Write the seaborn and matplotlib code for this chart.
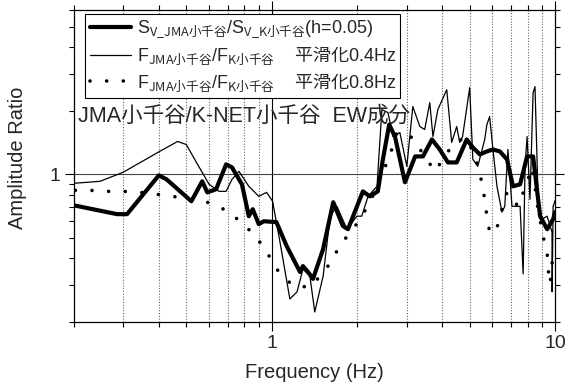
import numpy as np
import pandas as pd
import matplotlib
matplotlib.use('Agg')
import matplotlib.pyplot as plt
import seaborn as sns
from matplotlib.ticker import FixedLocator, FixedFormatter, NullFormatter

# Response spectrum ratio S_V (h=0.05)
sv_freq = [0.2, 0.285, 0.309, 0.40, 0.426, 0.521, 0.569, 0.593, 0.637, 0.691, 0.725, 0.786, 0.831, 0.858, 0.901, 0.938,
           1.04, 1.13, 1.26, 1.29, 1.345, 1.40, 1.52, 1.65, 1.785, 1.86,
           2.10, 2.22, 2.37, 2.47, 2.60, 2.725, 2.955, 3.08, 3.21, 3.42,
           3.68, 3.92, 4.19, 4.50, 4.88, 5.13, 5.43, 5.75, 6.04, 6.39,
           6.77, 7.11, 7.53, 7.97, 8.37, 8.86, 9.38, 9.85, 10.0]
sv_amp = [0.714, 0.648, 0.648, 0.989, 0.947, 0.746, 0.927, 0.822, 0.850, 1.115, 1.079, 0.897, 0.634, 0.684, 0.581, 0.600,
          0.594, 0.458, 0.345, 0.368, 0.345, 0.320, 0.443, 0.738, 0.569, 0.550,
          0.831, 0.787, 0.831, 1.177, 1.72, 1.51, 0.917, 1.056, 1.216, 1.216,
          1.463, 1.312, 1.139, 1.139, 1.463, 1.341, 1.243, 1.284, 1.312, 1.284,
          1.177, 0.878, 0.897, 1.216, 1.216, 0.634, 0.550, 0.613, 0.662]

# Fourier spectrum ratio, smoothed 0.4 Hz
f04_freq = [0.2, 0.248, 0.299, 0.4025, 0.466, 0.50, 0.543, 0.602, 0.653, 0.691, 0.725, 0.767, 0.831, 0.901, 0.96,
            1.008, 1.066, 1.16, 1.23, 1.29, 1.365, 1.42, 1.52, 1.61, 1.70, 1.845,
            2.00, 2.08, 2.19, 2.355, 2.45, 2.575, 2.68, 2.835,
            3.00, 3.15, 3.335, 3.47, 3.615, 3.71, 3.86,
            4.15, 4.32, 4.50, 4.61, 4.72,
            5.00, 5.13, 5.34, 5.65, 5.75, 5.88,
            6.04, 6.24, 6.50, 6.65, 6.82,
            7.05, 7.53, 7.72, 7.84, 7.97,
            8.16, 8.37, 8.50, 8.72,
            9.00, 9.38, 9.76, 9.77, 9.85, 10.0]
f04_amp = [0.907, 0.927, 1.022, 1.284, 1.431, 1.385, 1.139, 0.897, 0.831, 0.831, 0.947, 1.033, 0.878, 0.787, 0.822,
           0.746, 0.494, 0.257, 0.278, 0.356, 0.330, 0.223, 0.330, 0.634, 0.706, 0.550,
           0.634, 0.634, 0.787, 0.878, 2.026, 1.961, 1.51, 1.578,
           1.091, 2.093, 1.684, 1.631, 2.186, 1.51, 2.026,
           2.517, 1.416, 1.684, 1.416, 1.51,
           2.573, 1.177, 1.091, 1.463, 1.72, 1.877,
           1.312, 0.878, 0.662, 0.706, 1.312,
           0.706, 0.706, 0.338, 1.091, 1.51,
           0.762, 2.437, 2.601, 0.762,
           0.613, 0.634, 0.533, 0.278, 0.706, 0.75]

# Fourier spectrum ratio, smoothed 0.8 Hz
f08_freq = [0.203, 0.229, 0.263, 0.299, 0.343, 0.393, 0.447, 0.5925, 0.669, 0.767,
            0.879, 0.966, 1.05, 1.19, 1.365, 1.545, 1.675, 1.815, 2.02, 2.225,
            2.47, 2.62, 2.77, 3.13, 3.77, 4.36, 4.81, 5.21, 5.52, 5.65,
            5.75, 5.88, 6.19, 6.39, 6.77, 7.41, 7.97, 8.30, 8.50, 8.63,
            9.07, 9.38, 9.46, 9.61, 9.85]
f08_amp = [0.840, 0.840, 0.831, 0.831, 0.822, 0.805, 0.787, 0.738, 0.691, 0.607,
           0.510, 0.424, 0.352, 0.296, 0.293, 0.349, 0.420, 0.494, 0.594, 0.738,
           1.022, 1.243, 1.578, 1.495, 1.033, 1.385, 1.495, 1.243, 0.917, 0.762,
           0.634, 0.533, 0.533, 0.634, 0.822, 0.706, 0.917, 1.079, 0.878, 0.738,
           0.510, 0.429, 0.356, 0.303, 0.429]

x_major = [1, 10]
x_major_labels = ['1', '10']
x_minor = [0.2, 0.3, 0.4, 0.5, 0.6, 0.7, 0.8, 0.9, 2, 3, 4, 5, 6, 7, 8, 9]
y_major = [1]
y_major_labels = ['1']
y_minor = [0.2, 0.3, 0.4, 0.5, 0.6, 0.7, 0.8, 0.9, 2, 3, 4, 5, 6]

label_sv = r'S$_{\mathrm{V\_JMA小千谷}}$/S$_{\mathrm{V\_K小千谷}}$(h=0.05)'
label_f04 = r'F$_{\mathrm{JMA小千谷}}$/F$_{\mathrm{K小千谷}}$    $\mathrm{平滑化}$0.4Hz'
label_f08 = r'F$_{\mathrm{JMA小千谷}}$/F$_{\mathrm{K小千谷}}$    $\mathrm{平滑化}$0.8Hz'
title_text = 'JMA小千谷/K-NET小千谷  EW成分'

sns.set_style('ticks')
plt.rcParams['font.family'] = ['Liberation Sans', 'Noto Sans CJK JP']
plt.rcParams['mathtext.fontset'] = 'custom'
plt.rcParams['mathtext.rm'] = 'Noto Sans CJK JP'
plt.rcParams['mathtext.it'] = 'Noto Sans CJK JP'
plt.rcParams['mathtext.bf'] = 'Noto Sans CJK JP'

fig = plt.figure(figsize=(5.67, 3.87), dpi=100)
ax = fig.add_axes([73.5 / 567, 1 - 322 / 387, (555 - 73.5) / 567, (322 - 10) / 387])

df_sv = pd.DataFrame({'f': sv_freq, 'a': sv_amp})
df_04 = pd.DataFrame({'f': f04_freq, 'a': f04_amp})
df_08 = pd.DataFrame({'f': f08_freq, 'a': f08_amp})

sns.lineplot(data=df_04, x='f', y='a', ax=ax, color='black', lw=0.9,
             estimator=None, sort=False, zorder=3)
sns.lineplot(data=df_08, x='f', y='a', ax=ax, color='black', lw=2.6,
             linestyle=(0, (0.01, 4.6)), dash_capstyle='round',
             estimator=None, sort=False, zorder=4)
sns.lineplot(data=df_sv, x='f', y='a', ax=ax, color='black', lw=3.0,
             estimator=None, sort=False, zorder=5)
lines = ax.get_lines()
h04, h08, hsv = lines[0], lines[1], lines[2]
hsv.set_solid_joinstyle('round')
hsv.set_solid_capstyle('round')

ax.set_xscale('log')
ax.set_yscale('log')
ax.set_xlim(0.2, 10)
ax.set_ylim(0.2, 6)

for xv in x_minor[1:]:
    ax.axvline(xv, color='#666666', lw=0.8, ls=(0, (1, 1.5)), zorder=1)
ax.axvline(1, color='black', lw=0.8, zorder=1)
ax.axhline(1, color='#444444', lw=0.8, zorder=1)

ax.xaxis.set_major_locator(FixedLocator(x_major))
ax.xaxis.set_major_formatter(FixedFormatter(x_major_labels))
ax.xaxis.set_minor_locator(FixedLocator(x_minor))
ax.xaxis.set_minor_formatter(NullFormatter())
ax.yaxis.set_major_locator(FixedLocator(y_major))
ax.yaxis.set_major_formatter(FixedFormatter(y_major_labels))
ax.yaxis.set_minor_locator(FixedLocator(y_minor))
ax.yaxis.set_minor_formatter(NullFormatter())

ax.tick_params(which='both', direction='out', top=True, right=True, color='black', width=0.8)
ax.tick_params(which='major', length=6.5, labelsize=14, pad=3)
ax.tick_params(which='minor', length=3.6)
for sp in ax.spines.values():
    sp.set_color('black')
    sp.set_linewidth(0.9)

ax.set_xlabel('Frequency (Hz)', fontsize=14.5)
ax.set_ylabel('Amplitude Ratio', fontsize=14.5)
ax.xaxis.set_label_coords(0.5, -0.132)
ax.yaxis.set_label_coords(-0.097, 0.527)

ax.text(0.01, 0.66, title_text, transform=ax.transAxes, fontsize=15.5,
        ha='left', va='center', zorder=6)

leg = ax.legend([hsv, h04, h08], [label_sv, label_f04, label_f08],
                loc='upper left', bbox_to_anchor=(0.024, 0.987), borderaxespad=0,
                fontsize=13, frameon=True, fancybox=False, framealpha=1,
                edgecolor='black', handlelength=2.3, handletextpad=0.3,
                labelspacing=0.22, borderpad=0.25)
leg.get_frame().set_linewidth(0.8)
leg.set_zorder(7)

fig.savefig('out.png', dpi=100)
